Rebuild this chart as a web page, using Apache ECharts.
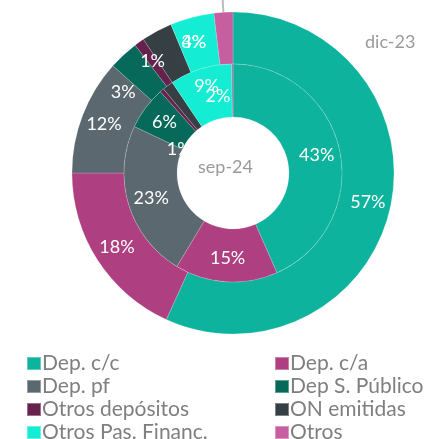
<!DOCTYPE html>
<html>
<head>
<meta charset="utf-8">
<script src="https://cdn.jsdelivr.net/npm/echarts@6/dist/echarts.min.js"></script>
<style>
html,body{margin:0;padding:0;background:#fff;}
#chart{width:424px;height:439px;}
</style>
</head>
<body>
<div id="chart"></div>
<script>
// ---- data ----
var categories = ['Dep. c/c', 'Dep. c/a', 'Dep. pf', 'Dep S. Público', 'Otros depósitos', 'ON emitidas', 'Otros Pas. Financ.', 'Otros'];
var innerLabel = 'sep-24';
var outerLabel = 'dic-23';
// percentage shares (sep-24, inner ring)
var innerValues = [43.4, 15.2, 23.4, 6.4, 0.6, 1.6, 9.2, 0.2];
// percentage shares (dic-23, outer ring)
var outerValues = [56.8, 18.2, 11.6, 3.0, 1.0, 3.1, 4.4, 1.9];
var colors = ['#0DB39C', '#AE3F81', '#5B6870', '#07695A', '#66224D', '#363F44', '#14EDD3', '#C65E9F'];

// ---- label styling (not data) ----
var innerLabelStyle = {
  4: { offset: [2, 41] },
  5: { offset: [36, -8] },
  6: { offset: [-1, -5] },
  7: { show: false }
};
var outerLabelStyle = {
  3: { offset: [-16, 20] },
  5: { offset: [26, -9] },
  6: { offset: [-4, 3] }
};

function fmt(p) { return Math.round(p.value) + '%'; }

function buildData(values, styles, isOuter) {
  return categories.map(function (name, i) {
    var item = { name: name, value: values[i], itemStyle: { color: colors[i] } };
    var s = styles[i];
    if (s) {
      item.label = {};
      if (s.offset) item.label.offset = s.offset;
      if (s.show === false) item.label.show = false;
    }
    if (isOuter && i === categories.length - 1) {
      item.label = { position: 'outside', color: '#888', fontSize: 17 };
      item.labelLine = { show: true, length: 40, length2: 0, lineStyle: { color: '#bbbbbb', width: 2 } };
    }
    return item;
  });
}

var chart = echarts.init(document.getElementById('chart'), null, { renderer: 'canvas' });
var cx = 233, cy = 173;
var baseLabel = { show: true, position: 'inside', color: '#fff', fontSize: 18, fontFamily: 'Lato', formatter: fmt };
var legendText = { fontSize: 21, fontFamily: 'Lato', color: '#7f7f7f', padding: [0, 0, 0, -4] };

chart.setOption({
  animation: false,
  color: colors,
  legend: [
    {
      orient: 'vertical', left: 26, top: 353, height: 110, padding: 0,
      itemWidth: 14, itemHeight: 13, itemGap: 2,
      icon: 'rect',
      data: [categories[0], categories[2], categories[4], categories[6]],
      textStyle: legendText
    },
    {
      orient: 'vertical', left: 274, top: 353, height: 110, padding: 0,
      itemWidth: 14, itemHeight: 13, itemGap: 2,
      icon: 'rect',
      data: [categories[1], categories[3], categories[5], categories[7]],
      textStyle: legendText
    }
  ],
  graphic: [
    { type: 'text', left: 198, top: 158, style: { text: innerLabel, fontSize: 18, fontFamily: 'Lato', fill: '#9a9a9a' } },
    { type: 'text', left: 365, top: 33, style: { text: outerLabel, fontSize: 18, fontFamily: 'Lato', fill: '#9a9a9a' } }
  ],
  series: [
    {
      name: outerLabel, type: 'pie', center: [cx, cy], radius: [109, 161],
      startAngle: 90, clockwise: true, avoidLabelOverlap: false,
      label: baseLabel, labelLine: { show: false },
      labelLayout: { hideOverlap: false },
      itemStyle: { borderColor: 'rgba(255,255,255,0.35)', borderWidth: 0.5 },
      emphasis: { disabled: true },
      data: buildData(outerValues, outerLabelStyle, true)
    },
    {
      name: innerLabel, type: 'pie', center: [cx, cy], radius: [56, 109],
      startAngle: 90, clockwise: true, avoidLabelOverlap: false,
      label: baseLabel, labelLine: { show: false },
      labelLayout: { hideOverlap: false },
      itemStyle: { borderColor: 'rgba(255,255,255,0.35)', borderWidth: 0.5 },
      emphasis: { disabled: true },
      data: buildData(innerValues, innerLabelStyle, false)
    }
  ]
});
</script>
</body>
</html>
